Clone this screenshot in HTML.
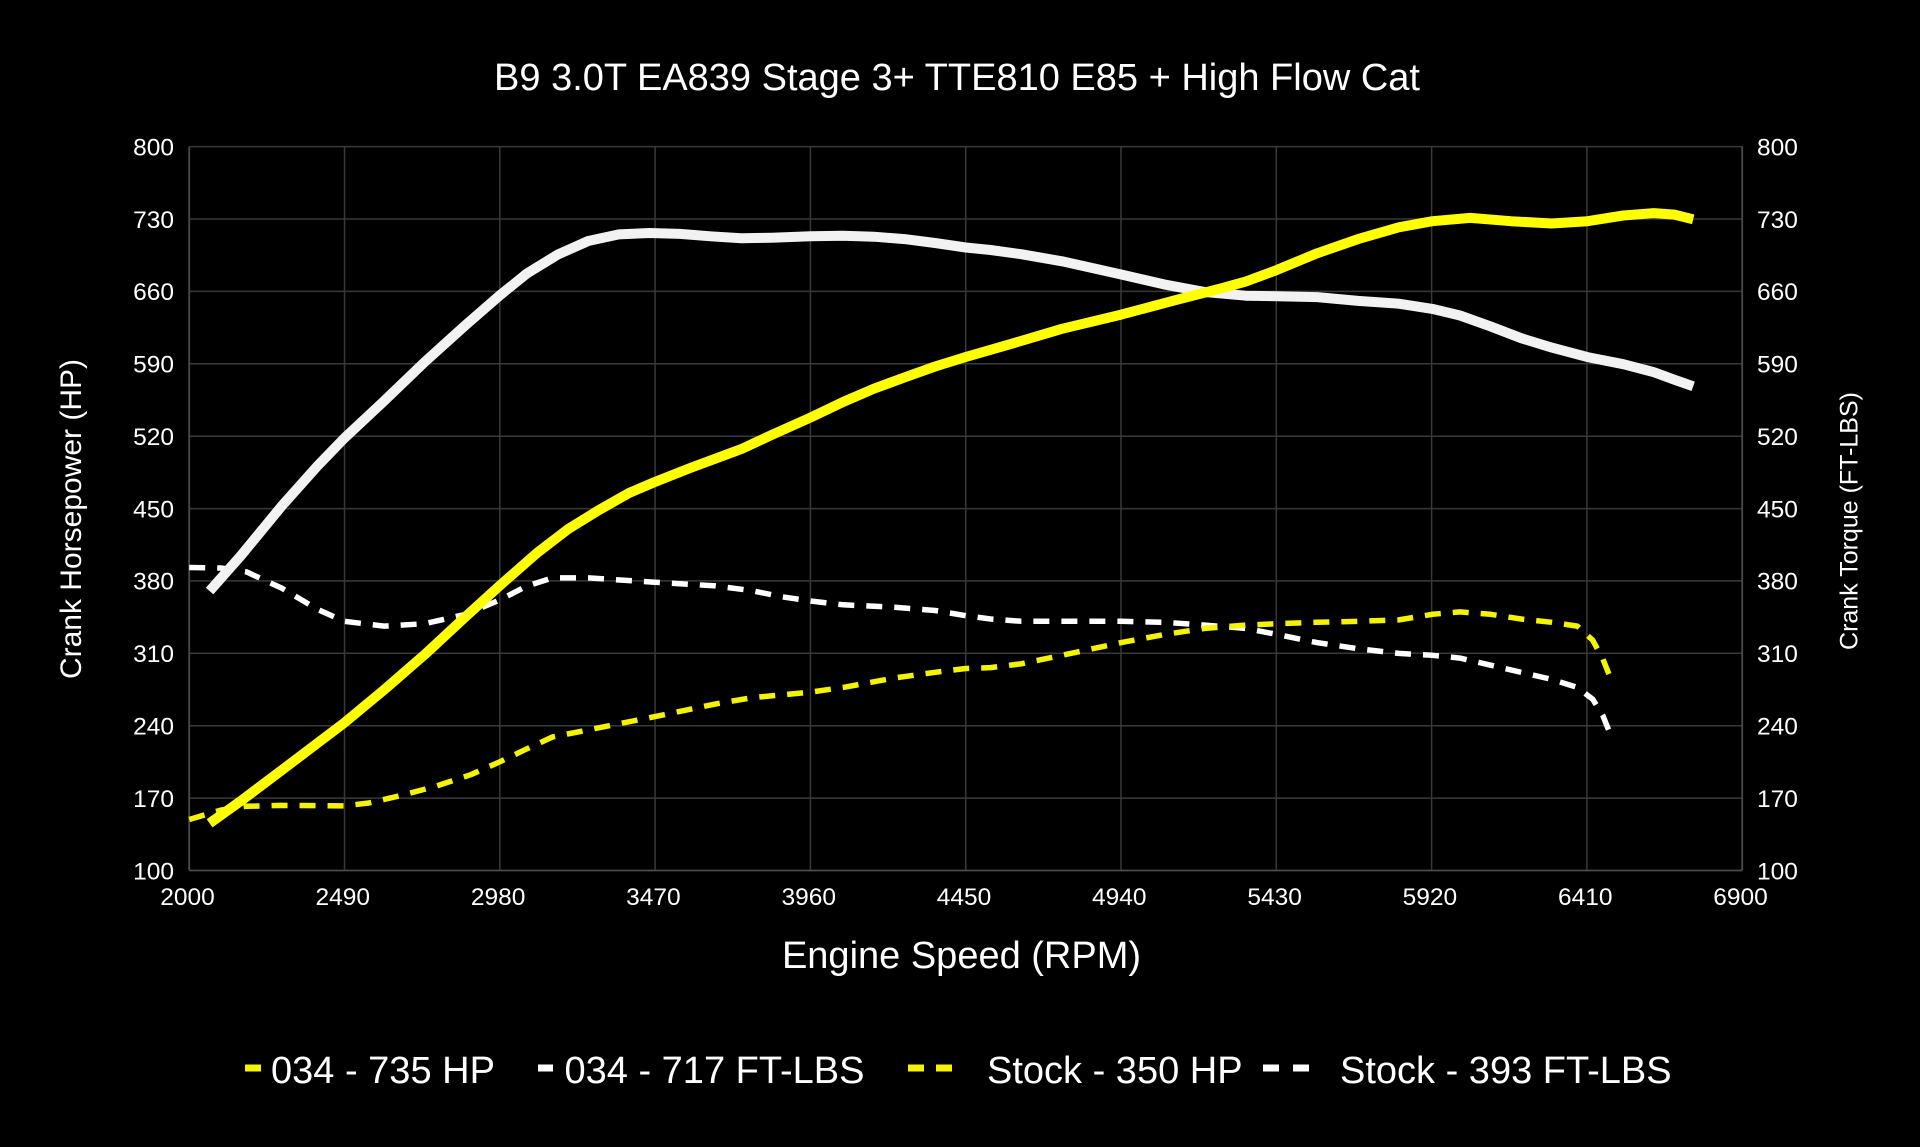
<!DOCTYPE html>
<html>
<head>
<meta charset="utf-8">
<style>
html,body{margin:0;padding:0;background:#000;}
svg{display:block;}
text{font-family:"Liberation Sans",Arial,sans-serif;fill:#fff;}
</style>
</head>
<body>
<svg width="1920" height="1147" viewBox="0 0 1920 1147" xmlns="http://www.w3.org/2000/svg">
<rect x="0" y="0" width="1920" height="1147" fill="#000"/>

<!-- Title -->
<text x="957" y="90" font-size="38" text-anchor="middle">B9 3.0T EA839 Stage 3+ TTE810 E85 + High Flow Cat</text>

<!-- Grid -->
<g stroke="#393939" stroke-width="1.5" fill="none">
  <line x1="344.5" y1="146.6" x2="344.5" y2="870.5"/>
  <line x1="499.8" y1="146.6" x2="499.8" y2="870.5"/>
  <line x1="655.1" y1="146.6" x2="655.1" y2="870.5"/>
  <line x1="810.4" y1="146.6" x2="810.4" y2="870.5"/>
  <line x1="965.7" y1="146.6" x2="965.7" y2="870.5"/>
  <line x1="1121.0" y1="146.6" x2="1121.0" y2="870.5"/>
  <line x1="1276.3" y1="146.6" x2="1276.3" y2="870.5"/>
  <line x1="1431.6" y1="146.6" x2="1431.6" y2="870.5"/>
  <line x1="1586.9" y1="146.6" x2="1586.9" y2="870.5"/>
  <line x1="189.2" y1="146.6" x2="1742.2" y2="146.6"/>
  <line x1="189.2" y1="219.0" x2="1742.2" y2="219.0"/>
  <line x1="189.2" y1="291.4" x2="1742.2" y2="291.4"/>
  <line x1="189.2" y1="363.8" x2="1742.2" y2="363.8"/>
  <line x1="189.2" y1="436.2" x2="1742.2" y2="436.2"/>
  <line x1="189.2" y1="508.6" x2="1742.2" y2="508.6"/>
  <line x1="189.2" y1="580.9" x2="1742.2" y2="580.9"/>
  <line x1="189.2" y1="653.3" x2="1742.2" y2="653.3"/>
  <line x1="189.2" y1="725.7" x2="1742.2" y2="725.7"/>
  <line x1="189.2" y1="798.1" x2="1742.2" y2="798.1"/>
</g>
<g stroke="#4a4a4a" stroke-width="1.8" fill="none">
  <line x1="189.2" y1="146.6" x2="189.2" y2="870.5"/>
  <line x1="1742.2" y1="146.6" x2="1742.2" y2="870.5"/>
  <line x1="189.2" y1="870.5" x2="1742.2" y2="870.5"/>
</g>

<!-- Left tick labels -->
<g font-size="24.5" text-anchor="end">
  <text x="174" y="155.4">800</text>
  <text x="174" y="227.8">730</text>
  <text x="174" y="300.2">660</text>
  <text x="174" y="372.6">590</text>
  <text x="174" y="445.0">520</text>
  <text x="174" y="517.4">450</text>
  <text x="174" y="589.7">380</text>
  <text x="174" y="662.1">310</text>
  <text x="174" y="734.5">240</text>
  <text x="174" y="806.9">170</text>
  <text x="174" y="879.3">100</text>
</g>
<!-- Right tick labels -->
<g font-size="24.5" text-anchor="start">
  <text x="1757" y="155.4">800</text>
  <text x="1757" y="227.8">730</text>
  <text x="1757" y="300.2">660</text>
  <text x="1757" y="372.6">590</text>
  <text x="1757" y="445.0">520</text>
  <text x="1757" y="517.4">450</text>
  <text x="1757" y="589.7">380</text>
  <text x="1757" y="662.1">310</text>
  <text x="1757" y="734.5">240</text>
  <text x="1757" y="806.9">170</text>
  <text x="1757" y="879.3">100</text>
</g>
<!-- X tick labels -->
<g font-size="24.5" text-anchor="middle">
  <text x="187.5" y="905">2000</text>
  <text x="342.8" y="905">2490</text>
  <text x="498.1" y="905">2980</text>
  <text x="653.4" y="905">3470</text>
  <text x="808.7" y="905">3960</text>
  <text x="964.0" y="905">4450</text>
  <text x="1119.3" y="905">4940</text>
  <text x="1274.6" y="905">5430</text>
  <text x="1429.9" y="905">5920</text>
  <text x="1585.2" y="905">6410</text>
  <text x="1740.5" y="905">6900</text>
</g>

<!-- Axis titles -->
<text x="961.5" y="968" font-size="38" text-anchor="middle">Engine Speed (RPM)</text>
<text transform="translate(81,519) rotate(-90)" font-size="30" text-anchor="middle">Crank Horsepower (HP)</text>
<text transform="translate(1857.5,521) rotate(-90)" font-size="25" text-anchor="middle">Crank Torque (FT-LBS)</text>

<!-- Stock torque (white dashed) -->
<polyline fill="none" stroke="#ffffff" stroke-width="5.5" stroke-dasharray="16 12" stroke-linejoin="round"
points="189.2,567.5 220.8,568.0 246.3,571.8 282.0,588.3 317.8,609.5 344.3,621.3 384.1,626.1 424.9,623.7 465.7,614.3 499.4,600.1 526.9,586.0 552.4,577.9 588.2,577.9 654.5,582.2 715.7,585.9 751.4,590.6 782.0,596.8 810.6,601.0 843.3,604.8 894.3,607.2 935.1,610.5 965.7,615.7 990.6,619.0 1021.2,621.3 1121.2,621.3 1164.1,622.3 1204.9,625.1 1245.7,628.4 1277.3,634.5 1317.1,642.6 1358.0,648.7 1398.8,653.4 1432.4,655.3 1460.0,658.1 1490.6,665.2 1521.2,672.3 1551.8,679.4 1577.3,687.4 1592.7,699.2 1602.9,715.7 1610.5,734.6"/>

<!-- Stock HP (yellow dashed) -->
<polyline fill="none" stroke="#f4f400" stroke-width="5.5" stroke-dasharray="16 12" stroke-linejoin="round"
points="189.2,819.5 220.8,810.1 246.3,806.3 282.0,805.4 344.3,805.9 368.8,803.0 399.4,795.9 435.1,786.5 470.8,774.7 499.4,762.0 526.9,748.8 552.4,737.0 588.2,729.9 654.5,716.7 715.7,703.9 751.4,697.8 810.6,692.1 843.3,687.4 894.3,678.0 935.1,672.3 965.7,668.5 990.6,667.6 1021.2,663.8 1062.0,655.3 1121.2,642.6 1164.1,634.5 1204.9,628.4 1245.7,625.1 1277.3,623.7 1317.1,622.3 1358.0,621.3 1398.8,619.9 1432.4,614.3 1460.0,611.9 1490.6,614.3 1521.2,619.0 1551.8,622.3 1577.3,626.1 1592.7,640.2 1602.9,659.1 1610.5,678.0"/>

<!-- 034 torque (white solid) -->
<polyline fill="none" stroke="#f2f2f2" stroke-width="10" stroke-linejoin="round"
points="209.6,591.1 241.2,555.3 282.0,505.7 317.8,465.6 344.3,438.2 384.1,401.0 424.9,361.8 465.7,325.0 499.4,295.7 526.9,273.5 557.5,254.7 588.2,241.0 618.8,234.4 649.4,233.0 680.0,233.9 710.6,236.3 741.2,238.2 771.8,237.7 810.6,236.3 843.3,235.8 873.9,236.7 904.5,239.1 935.1,243.0 965.7,247.5 990.6,250.0 1021.2,254.2 1062.0,261.3 1121.2,274.5 1164.1,284.4 1204.9,292.0 1245.7,295.7 1277.3,296.2 1317.1,297.1 1358.0,300.9 1398.8,303.7 1432.4,308.9 1460.0,315.5 1490.6,326.4 1521.2,338.2 1551.8,347.6 1587.5,357.1 1623.3,364.2 1653.9,372.2 1674.3,379.7 1693.2,386.3"/>

<!-- 034 HP (yellow solid) -->
<polyline fill="none" stroke="#ffff00" stroke-width="10" stroke-linejoin="round"
points="209.6,823.3 241.2,800.7 282.0,770.0 344.3,722.8 384.1,689.8 424.9,654.4 465.7,616.6 499.4,585.9 537.1,552.9 567.8,529.3 598.4,510.4 629.0,493.0 654.5,482.1 690.2,468.0 741.2,449.1 771.8,434.9 810.6,417.5 843.3,401.9 873.9,388.7 904.5,377.4 935.1,366.5 965.7,357.0 1011.0,343.9 1062.0,328.8 1121.2,314.6 1174.3,300.4 1220.2,288.6 1245.7,281.6 1277.3,269.8 1317.1,253.3 1358.0,239.1 1398.8,227.3 1432.4,221.2 1470.2,217.9 1511.0,221.2 1551.8,223.5 1587.5,221.2 1623.3,215.5 1653.9,213.1 1674.3,214.6 1693.2,219.3"/>

<!-- Legend -->
<g stroke-width="7">
  <line x1="245" y1="1068" x2="261" y2="1068" stroke="#f4f400"/>
  <line x1="538" y1="1068" x2="553" y2="1068" stroke="#ffffff"/>
  <line x1="908" y1="1068" x2="924" y2="1068" stroke="#f4f400"/>
  <line x1="936" y1="1068" x2="952" y2="1068" stroke="#f4f400"/>
  <line x1="1263" y1="1068" x2="1279" y2="1068" stroke="#ffffff"/>
  <line x1="1293" y1="1068" x2="1309" y2="1068" stroke="#ffffff"/>
</g>
<g font-size="38">
  <text x="271" y="1083">034 - 735 HP</text>
  <text x="564.5" y="1083">034 - 717 FT-LBS</text>
  <text x="987" y="1083">Stock - 350 HP</text>
  <text x="1340" y="1083">Stock - 393 FT-LBS</text>
</g>
</svg>
</body>
</html>
